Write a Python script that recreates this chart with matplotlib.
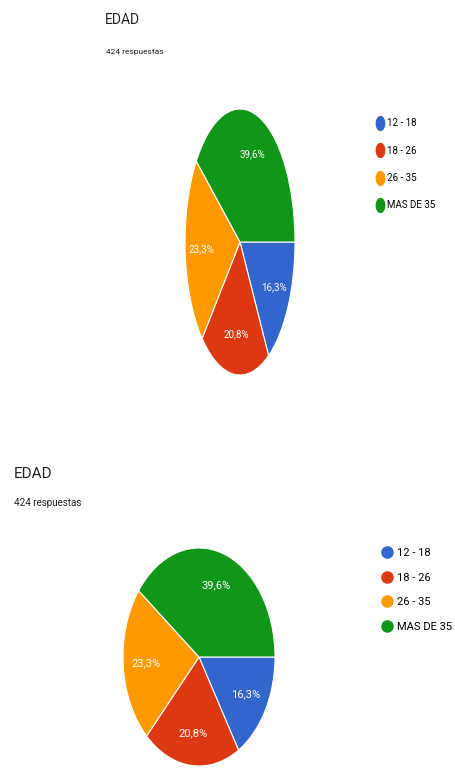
import numpy as np
import matplotlib
matplotlib.use('Agg')
import matplotlib.pyplot as plt
from matplotlib.path import Path
from matplotlib.lines import Line2D
from matplotlib.font_manager import FontProperties

# data
labels = ['12 - 18', '18 - 26', '26 - 35', 'MAS DE 35']
shares = [16.3, 20.8, 23.3, 39.6]
pct_text = ['16,3%', '20,8%', '23,3%', '39,6%']
colors = ['#3366cc', '#dc3912', '#ff9900', '#109618']
title = 'EDAD'
subtitle = '424 respuestas'

W, H = 456, 770
fig = plt.figure(figsize=(W / 100, H / 100), dpi=100)


def box(cx, cy, rx, ry):
    # pixel centre/radii -> figure rect
    return [(cx - rx) / W, 1 - (cy + ry) / H, 2 * rx / W, 2 * ry / H]


def draw_pie(ax, fp):
    ax.pie(shares, colors=colors, startangle=0, counterclock=False,
           wedgeprops=dict(edgecolor='white', linewidth=0.8))
    ax.set_aspect('auto')
    ax.set_xlim(-1, 1)
    ax.set_ylim(-1, 1)
    # percentage labels
    start = 0.0
    for s, t in zip(shares, pct_text):
        mid = np.deg2rad(start - s * 3.6 / 2)
        start -= s * 3.6
        ax.text(0.7 * np.cos(mid), 0.7 * np.sin(mid), t, color='white',
                ha='center', va='center', fontproperties=fp)


def rob(size):
    return FontProperties(family='Roboto', size=size)


# top chart (squeezed sideways)
ax1 = fig.add_axes(box(240, 242, 55, 133))
draw_pie(ax1, rob(7))
fig.text(105 / W, 1 - 20 / H, title, fontproperties=rob(10), color='#202124',
         va='center', ha='left')
fig.text(106 / W, 1 - 52 / H, subtitle, fontproperties=rob(6), color='#202124',
         va='center', ha='left')

t = np.linspace(0, 2 * np.pi, 40)
tall_dot = Path(np.column_stack([0.6 * np.cos(t), np.sin(t)]))
h1 = [Line2D([], [], marker=tall_dot, color=c, linestyle='', markersize=10) for c in colors]
fig.legend(h1, labels, loc='upper left', bbox_to_anchor=(377 / W, 1 - 118 / H),
           frameon=False, prop=rob(7), handlelength=0.7,
           handletextpad=0.35, labelspacing=1.8, borderpad=0, borderaxespad=0)

# bottom chart
ax2 = fig.add_axes(box(199, 657, 76, 109))
draw_pie(ax2, rob(8))
fig.text(14 / W, 1 - 474 / H, title, fontproperties=rob(11), color='#202124',
         va='center', ha='left')
fig.text(14 / W, 1 - 503 / H, subtitle, fontproperties=rob(7), color='#202124',
         va='center', ha='left')

h2 = [Line2D([], [], marker='o', color=c, linestyle='', markersize=8) for c in colors]
fig.legend(h2, labels, loc='upper left', bbox_to_anchor=(383 / W, 1 - 548 / H),
           frameon=False, prop=rob(8), handlelength=0.8,
           handletextpad=0.45, labelspacing=1.32, borderpad=0, borderaxespad=0)

fig.savefig('out.png', dpi=100, facecolor='white')
